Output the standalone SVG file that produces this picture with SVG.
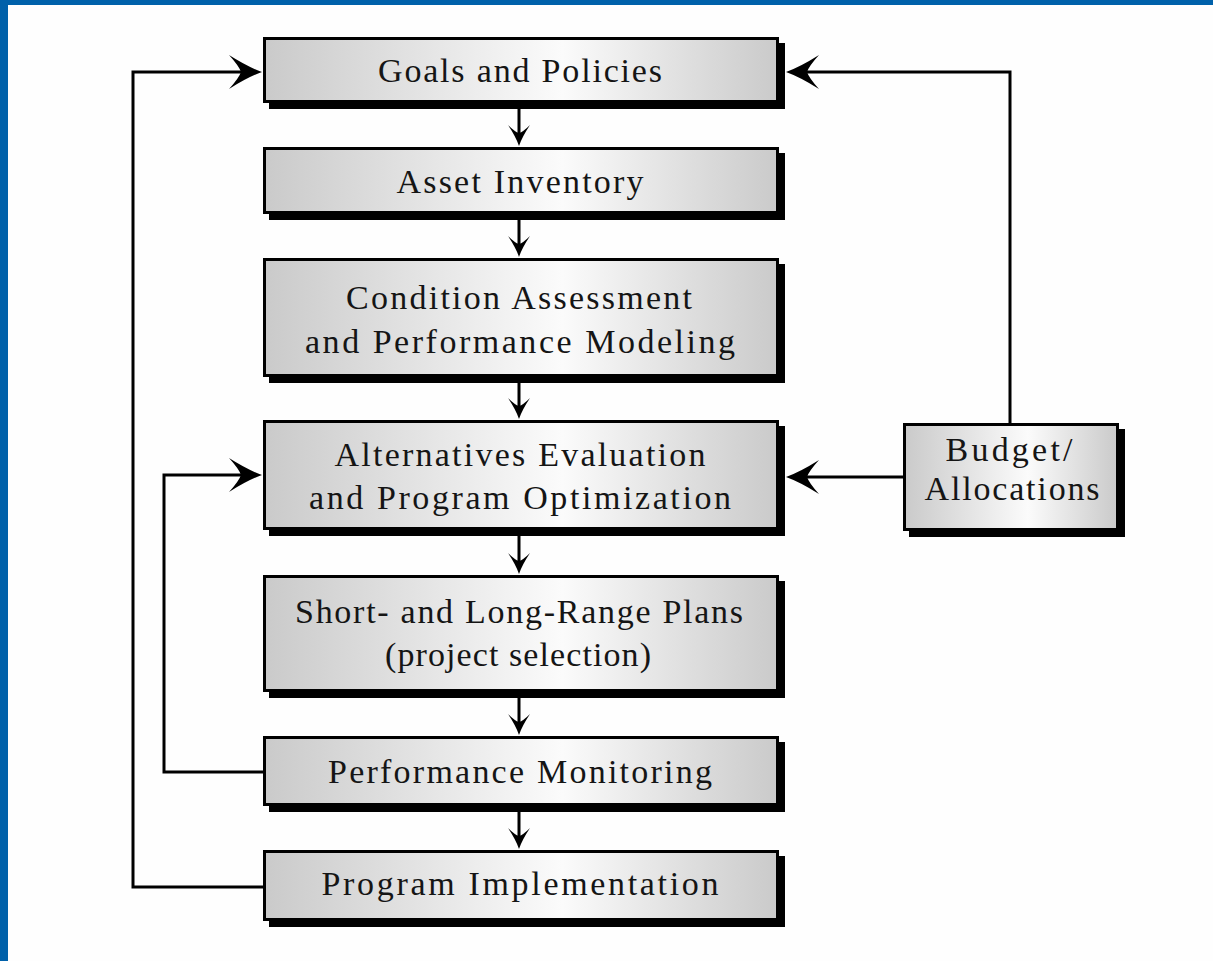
<svg xmlns="http://www.w3.org/2000/svg" width="1213" height="961" viewBox="0 0 1213 961">
<defs>
<linearGradient id="g" x1="0" y1="0" x2="1" y2="0">
<stop offset="0" stop-color="#cacaca"/>
<stop offset="0.58" stop-color="#fbfbfb"/>
<stop offset="1" stop-color="#cacaca"/>
</linearGradient>
<style>
.sh{fill:#000}
.bx{fill:url(#g);stroke:#000;stroke-width:3}
.t{font-family:"Liberation Serif","Times New Roman",serif;font-size:34px;fill:#151515;text-anchor:middle}
.ln{fill:none;stroke:#000;stroke-width:3}
</style>
<path id="big" d="M0,0 Q-14,-5 -33,-17 Q-23,-6 -21,0 Q-23,6 -33,17 Q-14,5 0,0 Z"/>
<path id="sm" d="M0,0 Q-3,-9 -11,-21 Q-4,-14 0,-13 Q4,-14 11,-21 Q3,-9 0,0 Z"/>
</defs>
<rect x="0" y="0" width="1213" height="961" fill="#fefefe"/>
<rect x="0" y="0" width="1213" height="5" fill="#0061aa"/>
<rect x="0" y="0" width="8" height="961" fill="#0061aa"/>

<g id="connectors">
<line class="ln" x1="519" y1="109" x2="519" y2="140"/><use href="#sm" x="519" y="146"/>
<line class="ln" x1="519" y1="220" x2="519" y2="251"/><use href="#sm" x="519" y="257"/>
<line class="ln" x1="519" y1="383" x2="519" y2="413"/><use href="#sm" x="519" y="419"/>
<line class="ln" x1="519" y1="536" x2="519" y2="568"/><use href="#sm" x="519" y="574"/>
<line class="ln" x1="519" y1="698" x2="519" y2="729"/><use href="#sm" x="519" y="735"/>
<line class="ln" x1="519" y1="812" x2="519" y2="843"/><use href="#sm" x="519" y="849"/>
<polyline class="ln" points="264,887 133,887 133,72 245,72"/>
<use href="#big" x="262" y="72"/>
<polyline class="ln" points="264,772 164,772 164,475 245,475"/>
<use href="#big" x="262" y="475"/>
<polyline class="ln" points="1010,423 1010,72 805,72"/>
<use href="#big" transform="translate(786,72) rotate(180)"/>
<line class="ln" x1="903" y1="477" x2="805" y2="477"/>
<use href="#big" transform="translate(786,477) rotate(180)"/>
</g>

<g id="goals">
<rect class="sh" x="269" y="43" width="516" height="66"/>
<rect class="bx" x="264.5" y="38.5" width="513" height="63"/>
<text class="t" x="520" y="82" textLength="284">Goals and Policies</text>
</g>
<g id="asset">
<rect class="sh" x="269" y="153" width="516" height="67"/>
<rect class="bx" x="264.5" y="148.5" width="513" height="64"/>
<text class="t" x="520" y="193" textLength="247">Asset Inventory</text>
</g>
<g id="condition">
<rect class="sh" x="269" y="264" width="516" height="119"/>
<rect class="bx" x="264.5" y="259.5" width="513" height="116"/>
<text class="t" x="519" y="309" textLength="346">Condition Assessment</text>
<text class="t" x="520" y="353" textLength="430">and Performance Modeling</text>
</g>
<g id="alternatives">
<rect class="sh" x="269" y="426" width="516" height="110"/>
<rect class="bx" x="264.5" y="421.5" width="513" height="107"/>
<text class="t" x="520" y="466" textLength="371">Alternatives Evaluation</text>
<text class="t" x="520" y="509" textLength="422">and Program Optimization</text>
</g>
<g id="plans">
<rect class="sh" x="269" y="581" width="516" height="117"/>
<rect class="bx" x="264.5" y="576.5" width="513" height="114"/>
<text class="t" x="519" y="623" textLength="448">Short- and Long-Range Plans</text>
<text class="t" x="518" y="666" textLength="266">(project selection)</text>
</g>
<g id="monitoring">
<rect class="sh" x="269" y="742" width="516" height="70"/>
<rect class="bx" x="264.5" y="737.5" width="513" height="67"/>
<text class="t" x="520" y="783" textLength="384">Performance Monitoring</text>
</g>
<g id="implementation">
<rect class="sh" x="269" y="856" width="516" height="71"/>
<rect class="bx" x="264.5" y="851.5" width="513" height="68"/>
<text class="t" x="520" y="895" textLength="397">Program Implementation</text>
</g>
<g id="budget">
<rect class="sh" x="909" y="429" width="216" height="108"/>
<rect class="bx" x="904.5" y="424.5" width="213" height="105"/>
<text class="t" x="1009" y="461" textLength="127">Budget/</text>
<text class="t" x="1012" y="500" textLength="175">Allocations</text>
</g>
</svg>
